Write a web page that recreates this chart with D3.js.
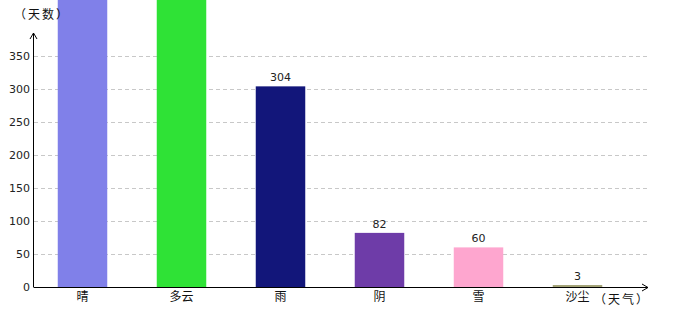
<!DOCTYPE html>
<html>
<head>
<meta charset="utf-8">
<script src="https://cdn.jsdelivr.net/npm/d3@7"></script>
<style>
  body { margin: 0; background: #fff; }
  text { font-family: "DejaVu Sans", "Noto Sans CJK SC", sans-serif; }
  .cjk { font-family: "Noto Sans CJK SC", sans-serif; }
</style>
</head>
<body>
<div id="chart"></div>
<script>
// weather categories and day counts (first two run off the top of the chart)
const categories = ["晴", "多云", "雨", "阴", "雪", "沙尘"];
const days = [456, 441, 304, 82, 60, 3];
const colors = ["#8080e9", "#2fe236", "#12167a", "#6e3ca8", "#fea6cf", "#a3a377"];
const yTicks = [0, 50, 100, 150, 200, 250, 300, 350];

const W = 680, H = 320;
const x0 = 34, x1 = 648, baseY = 287;

const svg = d3.select("#chart").append("svg")
  .attr("width", W).attr("height", H);

// scales
const xScale = d3.scaleBand()
  .domain(categories)
  .range([33, 33 + 99 * categories.length])
  .paddingInner(0.5)
  .paddingOuter(0.25);

const yScale = d3.scaleLinear()
  .domain([0, 350])
  .range([baseY, 56]);

// dashed grid lines
svg.append("g")
  .selectAll("line")
  .data(yTicks.filter(d => d > 0))
  .enter()
  .append("line")
  .attr("x1", x0).attr("x2", x1)
  .attr("y1", d => Math.round(yScale(d)) + 0.5)
  .attr("y2", d => Math.round(yScale(d)) + 0.5)
  .attr("stroke", "#c8c8c8")
  .attr("stroke-dasharray", "4,3");

// y tick labels
svg.append("g")
  .selectAll("text")
  .data(yTicks)
  .enter()
  .append("text")
  .attr("x", 30)
  .attr("y", d => yScale(d) + 4)
  .attr("text-anchor", "end")
  .attr("font-size", "11px")
  .attr("fill", "#222")
  .text(d => d);

// bars
svg.append("g")
  .selectAll("rect")
  .data(days)
  .enter()
  .append("rect")
  .attr("x", (d, i) => xScale(categories[i]))
  .attr("y", d => yScale(d))
  .attr("width", xScale.bandwidth())
  .attr("height", d => baseY - yScale(d))
  .attr("fill", (d, i) => colors[i]);

// value labels above bars (only where the bar top is inside the view)
svg.append("g")
  .selectAll("text")
  .data(days.map((d, i) => ({ cat: categories[i], value: d })).filter(d => yScale(d.value) > 20))
  .enter()
  .append("text")
  .attr("x", d => xScale(d.cat) + xScale.bandwidth() / 2)
  .attr("y", d => yScale(d.value) - 5)
  .attr("text-anchor", "middle")
  .attr("font-size", "11px")
  .attr("fill", "#222")
  .text(d => d.value);

// category labels
svg.append("g")
  .selectAll("text")
  .data(categories)
  .enter()
  .append("text")
  .attr("class", "cjk")
  .attr("x", d => xScale(d) + xScale.bandwidth() / 2)
  .attr("y", 301)
  .attr("text-anchor", "middle")
  .attr("font-size", "12px")
  .attr("fill", "#111")
  .text(d => d);

// axes with arrow heads
const axis = svg.append("g").attr("stroke", "#000").attr("fill", "none");
axis.append("line").attr("x1", x0 - 0.5).attr("x2", x0 - 0.5).attr("y1", baseY).attr("y2", 33);
axis.append("line").attr("x1", x0 - 0.5).attr("x2", x1).attr("y1", baseY + 0.5).attr("y2", baseY + 0.5);
axis.append("path").attr("d", `M${x0 - 4},${39} L${x0 - 0.5},${33} L${x0 + 3},${39}`);
axis.append("path").attr("d", `M${x1 - 6},${baseY - 3} L${x1},${baseY + 0.5} L${x1 - 6},${baseY + 4}`);

// axis titles
svg.append("text")
  .attr("class", "cjk")
  .attr("x", 14).attr("y", 19)
  .attr("font-size", "12px")
  .attr("letter-spacing", "2px")
  .attr("fill", "#111")
  .text("（天数）");

svg.append("text")
  .attr("class", "cjk")
  .attr("x", 594).attr("y", 304)
  .attr("font-size", "12px")
  .attr("letter-spacing", "2px")
  .attr("fill", "#111")
  .text("（天气）");
</script>
</body>
</html>
